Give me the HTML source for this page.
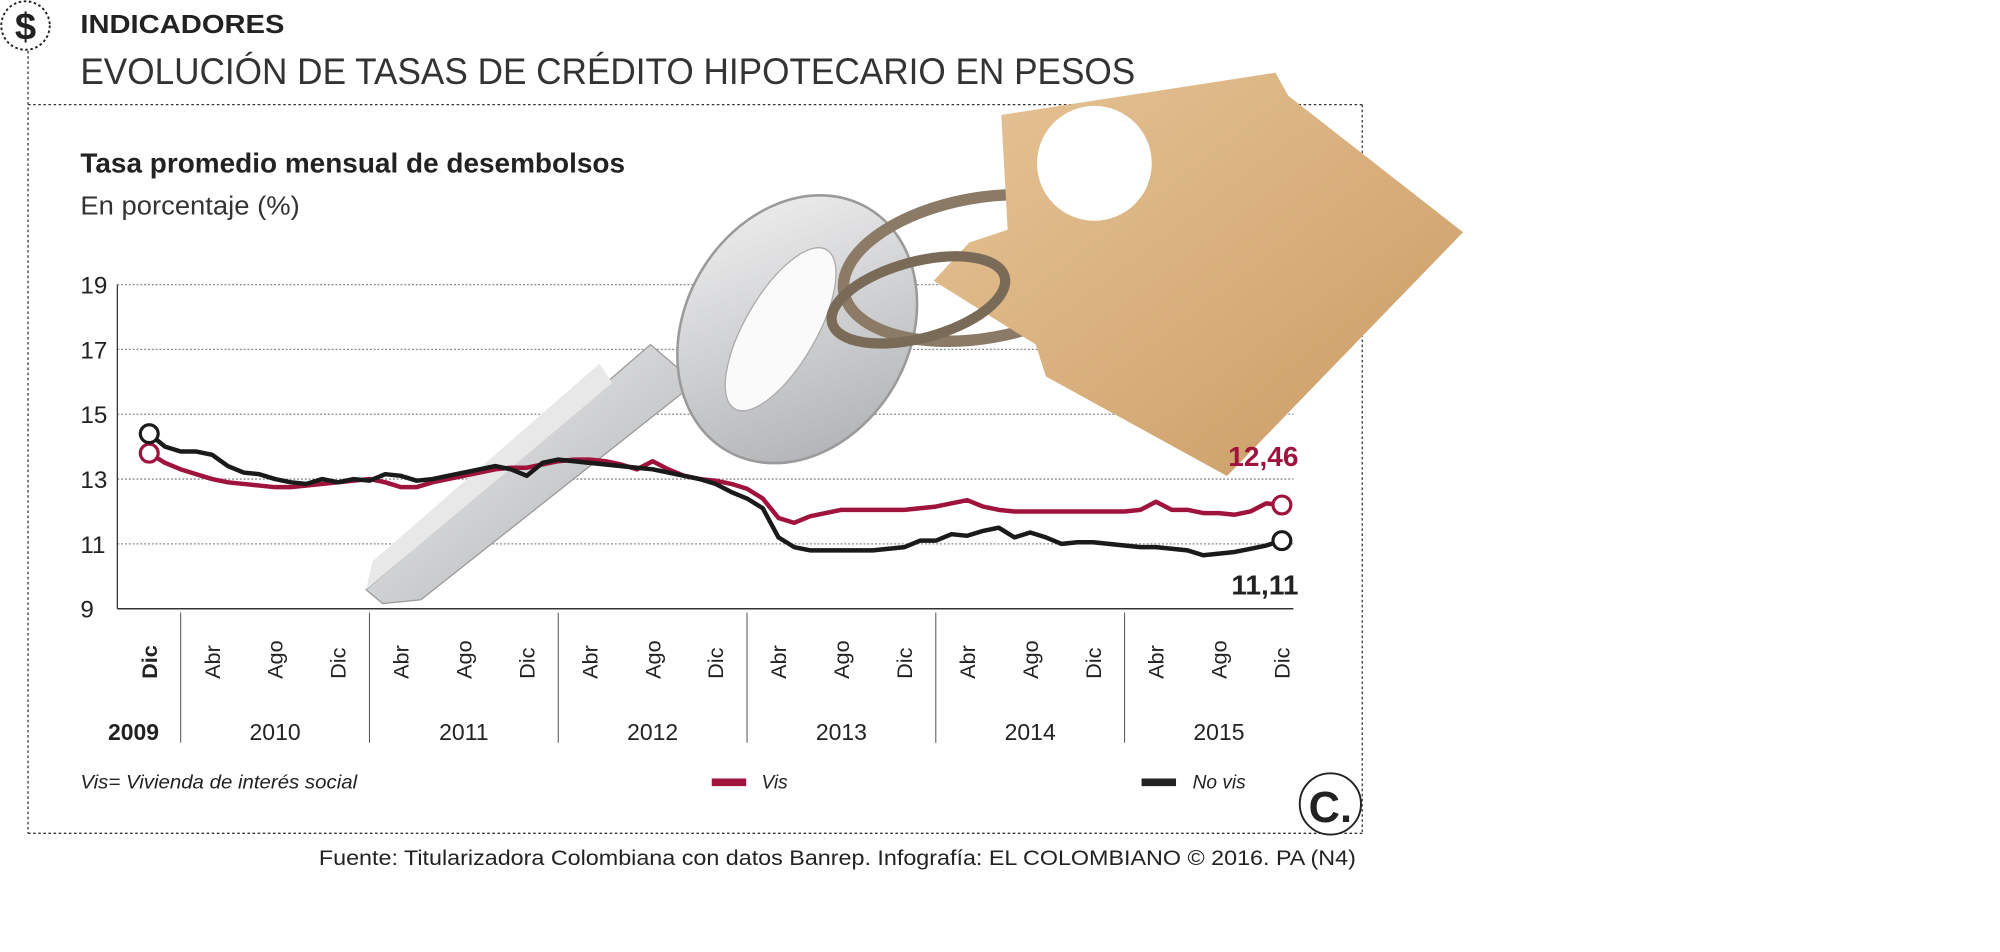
<!DOCTYPE html>
<html><head><meta charset="utf-8">
<style>
html,body{margin:0;padding:0;background:#fff;}
svg{display:block;}
text{font-family:"Liberation Sans Narrow","Liberation Sans",sans-serif;}
</style></head>
<body>
<svg id="chart" width="2000" height="952" viewBox="0 0 1568 746" preserveAspectRatio="none" xmlns="http://www.w3.org/2000/svg">
<defs>
<linearGradient id="gold" x1="0" y1="0" x2="1" y2="1"><stop offset="0" stop-color="#e6c497"/><stop offset="0.5" stop-color="#d9b07d"/><stop offset="1" stop-color="#c99a63"/></linearGradient>
<linearGradient id="silver" x1="0" y1="0" x2="1" y2="1"><stop offset="0" stop-color="#f4f4f4"/><stop offset="0.5" stop-color="#cfd0d2"/><stop offset="1" stop-color="#a9abae"/></linearGradient>
</defs>
<g>
<circle cx="20" cy="20" r="19" fill="none" stroke="#222" stroke-width="1.5" stroke-dasharray="2,2"/>
<text x="20" y="31" font-size="30" font-weight="bold" text-anchor="middle" fill="#222">$</text>
</g>
<text x="63" y="26" font-size="20" font-weight="bold" fill="#222" textLength="160" lengthAdjust="spacingAndGlyphs">INDICADORES</text>
<text x="63" y="66" font-size="29" fill="#333" textLength="827" lengthAdjust="spacingAndGlyphs">EVOLUCIÓN DE TASAS DE CRÉDITO HIPOTECARIO EN PESOS</text>
<g fill="none" stroke="#333" stroke-width="1" stroke-dasharray="2,2">
<line x1="22" y1="40" x2="22" y2="653"/>
<line x1="22" y1="82" x2="1068" y2="82"/>
<line x1="1068" y1="82" x2="1068" y2="653"/>
<line x1="22" y1="653" x2="1068" y2="653"/>
</g>
<text x="63" y="135" font-size="22" font-weight="bold" fill="#222" textLength="427" lengthAdjust="spacingAndGlyphs">Tasa promedio mensual de desembolsos</text>
<text x="63" y="168" font-size="20" fill="#333" textLength="172" lengthAdjust="spacingAndGlyphs">En porcentaje (%)</text>
<g id="grid"></g>
<g id="yaxis"></g>
<g id="xaxis"></g>
<g>
<polygon points="287,462 300,473 330,470 545,300 510,270" fill="url(#silver)" stroke="#999" stroke-width="1"/>
<polygon points="287,462 480,300 470,285 292,440" fill="#e8e8e8"/>
<ellipse cx="625" cy="258" rx="88" ry="110" transform="rotate(30 625 258)" fill="url(#silver)" stroke="#9a9a9a" stroke-width="2"/>
<ellipse cx="612" cy="258" rx="28" ry="72" transform="rotate(30 612 258)" fill="#fafafa" stroke="#aaa"/>
</g>
<g>
<ellipse cx="770" cy="210" rx="110" ry="55" transform="rotate(-10 770 210)" fill="none" stroke="#8a7a66" stroke-width="9"/>
<polygon points="785,90 1000,57 1010,75 1147,182 962,373 820,295 812,270 732,220 760,190 790,180" fill="url(#gold)"/>
<circle cx="858" cy="128" r="45" fill="#fff"/>
<ellipse cx="720" cy="235" rx="70" ry="30" transform="rotate(-15 720 235)" fill="none" stroke="#7a6a58" stroke-width="8"/>
</g>
<g id="series"></g>
<text x="1018" y="365" font-size="22" font-weight="bold" fill="#a0133c" text-anchor="end">12,46</text>
<text x="1018" y="466" font-size="22" font-weight="bold" fill="#222" text-anchor="end">11,11</text>
<text x="63" y="618" font-size="15" font-style="italic" fill="#222" textLength="217" lengthAdjust="spacingAndGlyphs">Vis= Vivienda de interés social</text>
<g>
<line x1="558" y1="613" x2="585" y2="613" stroke="#a0133c" stroke-width="6"/>
<text x="597" y="618" font-size="15" font-style="italic" fill="#222">Vis</text>
</g>
<g>
<line x1="895" y1="613" x2="922" y2="613" stroke="#222" stroke-width="6"/>
<text x="935" y="618" font-size="15" font-style="italic" fill="#222">No vis</text>
</g>
<g>
<circle cx="1043" cy="630" r="24" fill="#fff" stroke="#222" stroke-width="1.5"/>
<text x="1043" y="644" font-size="34" font-family="Liberation Serif,serif" font-weight="bold" text-anchor="middle" fill="#222">C.</text>
</g>
<text x="1063" y="678" font-size="17" fill="#222" text-anchor="end" textLength="813" lengthAdjust="spacingAndGlyphs">Fuente: Titularizadora Colombiana con datos Banrep. Infografía: EL COLOMBIANO © 2016. PA (N4)</text>
</svg>
<script>
const yTicks=[9,11,13,15,17,19];
const monthLabels=["Dic","Abr","Ago","Dic","Abr","Ago","Dic","Abr","Ago","Dic","Abr","Ago","Dic","Abr","Ago","Dic","Abr","Ago","Dic"];
const yearLabels=["2009","2010","2011","2012","2013","2014","2015"];
const visValues=[13.8,13.5,13.3,13.15,13.0,12.9,12.85,12.8,12.75,12.75,12.8,12.85,12.9,12.95,13.0,12.9,12.75,12.75,12.9,13.0,13.1,13.2,13.3,13.35,13.35,13.45,13.55,13.6,13.6,13.55,13.45,13.3,13.55,13.3,13.1,13.0,12.95,12.85,12.7,12.4,11.8,11.65,11.85,11.95,12.05,12.05,12.05,12.05,12.05,12.1,12.15,12.25,12.35,12.15,12.05,12.0,12.0,12.0,12.0,12.0,12.0,12.0,12.0,12.05,12.3,12.05,12.05,11.95,11.95,11.9,12.0,12.25,12.2];
const noVisValues=[14.4,14.0,13.85,13.85,13.75,13.4,13.2,13.15,13.0,12.9,12.85,13.0,12.9,13.0,12.95,13.15,13.1,12.95,13.0,13.1,13.2,13.3,13.4,13.3,13.1,13.5,13.6,13.55,13.5,13.45,13.4,13.35,13.3,13.2,13.1,13.0,12.85,12.6,12.4,12.1,11.2,10.9,10.8,10.8,10.8,10.8,10.8,10.85,10.9,11.1,11.1,11.3,11.25,11.4,11.5,11.2,11.35,11.2,11.0,11.05,11.05,11.0,10.95,10.9,10.9,10.85,10.8,10.65,10.7,10.75,10.85,10.95,11.1];
const NS="http://www.w3.org/2000/svg";
const L=92,R=1014,X0=117,X1=1005,YB=477,YT=223;
const x=i=>X0+i*(X1-X0)/72;
const y=v=>YB-(v-9)*(YB-YT)/10;
function mk(t,a,p){const e=document.createElementNS(NS,t);for(const k in a)e.setAttribute(k,a[k]);p.appendChild(e);return e;}
const grid=document.getElementById('grid'),ya=document.getElementById('yaxis'),xa=document.getElementById('xaxis'),ser=document.getElementById('series');
yTicks.forEach(t=>{
 const g=mk('line',{x1:L,x2:R,y1:y(t),y2:y(t),stroke:t===9?'#333':'#888','stroke-width':t===9?1.2:1,'stroke-dasharray':t===9?'none':'1.5,1.5'},grid);
 
 
 const tx=mk('text',{x:63,y:y(t)+7,'font-size':19,fill:'#222'},ya);tx.textContent=t;
 
 
});
const ax=mk('line',{x1:L,x2:L,y1:YT,y2:YB,stroke:'#333','stroke-width':1},ya);


monthLabels.forEach((m,k)=>{
 const px=x(k*4);
 const tx=mk('text',{x:0,y:0,'font-size':17,fill:'#222','font-weight':k===0?'bold':'normal',transform:`translate(${px+6},532) rotate(-90)`},xa);
 tx.textContent=m;
 
 
});
yearLabels.forEach((yr,k)=>{
 let cx=k===0?x(-1):(x(12*(k-1)+2)+x(12*k+2))/2;
 const tx=mk('text',{x:cx,y:580,'font-size':18,fill:'#222','text-anchor':'middle','font-weight':k===0?'bold':'normal'},xa);
 tx.textContent=yr;
 
 
 if(k<6){const sx=x(12*k+2);
  const s=mk('line',{x1:sx,x2:sx,y1:480,y2:582,stroke:'#555','stroke-width':0.8},xa);
  
  }
});
function drawSeries(vals,color,name){
 const p=mk('polyline',{points:vals.map((v,i)=>x(i)+','+y(v)).join(' '),fill:'none',stroke:color,'stroke-width':3.5,'stroke-linejoin':'round','stroke-linecap':'round'},ser);
 
 
 [0,vals.length-1].forEach(i=>{
  const c=mk('circle',{cx:x(i),cy:y(vals[i]),r:7,fill:'#fff',stroke:color,'stroke-width':2.5},ser);
  
  
 });
}
drawSeries(visValues,'#a0133c','vis');
drawSeries(noVisValues,'#1a1a1a','novis');
</script>
</body></html>
